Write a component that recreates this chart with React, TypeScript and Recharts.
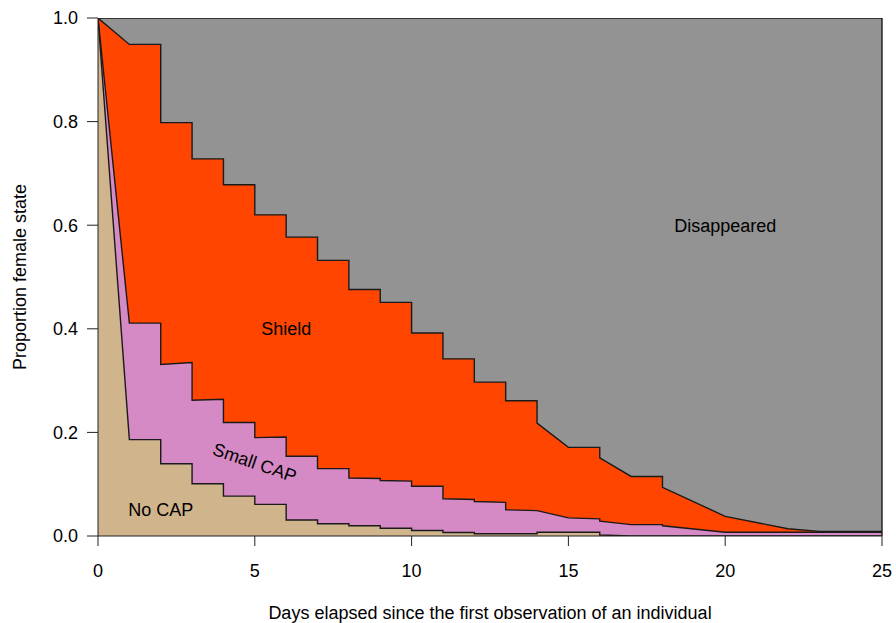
import React from 'react';
import { AreaChart, Area, XAxis, YAxis, Label, ReferenceDot, ReferenceLine } from 'recharts';

const FONT = '"Liberation Sans", Arial, Helvetica, sans-serif';

// outer boundary = everything still present (grey fills the rest)
const disappearedX = [0, 25];
const disappearedTop = [1, 1];

// upper edge of the Shield band
const shieldX = [0, 1, 2, 2, 3, 3, 4, 4, 5, 5, 6, 6, 7, 7, 8, 8, 9, 9, 10, 10, 11, 11, 12, 12, 13, 13, 14, 14, 15, 16, 16, 17, 18, 18, 20, 22, 23, 25];
const shieldTop = [1.0, 0.949, 0.949, 0.798, 0.798, 0.728, 0.728, 0.678, 0.678, 0.62, 0.62, 0.577, 0.577, 0.532, 0.532, 0.476, 0.476, 0.451, 0.451, 0.392, 0.392, 0.342, 0.342, 0.297, 0.297, 0.261, 0.261, 0.218, 0.171, 0.171, 0.151, 0.115, 0.115, 0.094, 0.038, 0.014, 0.009, 0.009];

// upper edge of the Small CAP band
const smallX = [0, 1, 2, 2, 3, 3, 4, 4, 5, 5, 6, 6, 7, 7, 8, 8, 9, 9, 10, 10, 11, 11, 12, 12, 13, 13, 14, 15, 16, 16, 17, 18, 18, 20, 25];
const smallTop = [1.0, 0.411, 0.411, 0.331, 0.335, 0.262, 0.264, 0.219, 0.219, 0.19, 0.191, 0.154, 0.154, 0.13, 0.13, 0.112, 0.111, 0.107, 0.106, 0.096, 0.096, 0.072, 0.0705, 0.0667, 0.065, 0.0506, 0.049, 0.035, 0.033, 0.0286, 0.022, 0.022, 0.0197, 0.0073, 0.0073];

// upper edge of the No CAP band
const noCapX = [0, 1, 2, 2, 3, 3, 4, 4, 5, 5, 6, 6, 7, 7, 8, 8, 9, 9, 10, 10, 11, 11, 12, 12, 14, 14, 16, 16, 17, 25];
const noCapTop = [1.0, 0.186, 0.186, 0.1395, 0.1395, 0.101, 0.101, 0.077, 0.077, 0.061, 0.061, 0.031, 0.031, 0.0236, 0.0236, 0.0197, 0.0197, 0.015, 0.015, 0.0106, 0.0106, 0.0068, 0.0068, 0.0043, 0.0043, 0.0073, 0.0073, 0.002, 0, 0];

const xTicks = [0, 5, 10, 15, 20, 25];
const yTicks = [0, 0.2, 0.4, 0.6, 0.8, 1.0];

const toRows = (xs: number[], ys: number[]) => xs.map((x, i) => ({ x, y: ys[i] }));

const bands = [
  { name: 'Disappeared', data: toRows(disappearedX, disappearedTop), fill: '#939393' },
  { name: 'Shield', data: toRows(shieldX, shieldTop), fill: '#FF4500' },
  { name: 'Small CAP', data: toRows(smallX, smallTop), fill: '#D58AC5' },
  { name: 'No CAP', data: toRows(noCapX, noCapTop), fill: '#D0B48C' },
];

const bandLabels = [
  { text: 'Disappeared', x: 20, y: 0.6, angle: 0 },
  { text: 'Shield', x: 6, y: 0.4, angle: 0 },
  { text: 'Small CAP', x: 5, y: 0.142, angle: 19 },
  { text: 'No CAP', x: 2, y: 0.05, angle: 0 },
];

const XTitle = (props: any) => {
  const vb = props.viewBox;
  return (
    <text x={vb.x + vb.width / 2} y={vb.y + 83} textAnchor="middle" fontSize={18} fontFamily={FONT} fill="#000">
      Days elapsed since the first observation of an individual
    </text>
  );
};

const YTitle = (props: any) => {
  const vb = props.viewBox;
  const cx = vb.x + 26;
  const cy = vb.y + vb.height / 2;
  return (
    <text x={cx} y={cy} transform={`rotate(-90, ${cx}, ${cy})`} textAnchor="middle" fontSize={18} fontFamily={FONT} fill="#000">
      Proportion female state
    </text>
  );
};

export default function App() {
  return (
    <div style={{ position: 'absolute', left: 0, top: 0, width: 896, height: 623, background: '#fff' }}>
      <AreaChart width={896} height={623} margin={{ top: 18, right: 14, bottom: 0, left: 0 }}>
        <XAxis
          type="number"
          dataKey="x"
          domain={[0, 25]}
          ticks={xTicks}
          interval={0}
          height={87}
          tickSize={10}
          tickMargin={18}
          stroke="#222"
          tick={{ fill: '#000', fontSize: 18, fontFamily: FONT }}
          allowDataOverflow
        >
          <Label content={XTitle} />
        </XAxis>
        <YAxis
          type="number"
          dataKey="y"
          domain={[0, 1]}
          ticks={yTicks}
          interval={0}
          width={98}
          tickSize={11}
          tickMargin={9}
          stroke="#222"
          tick={{ fill: '#000', fontSize: 18, fontFamily: FONT }}
          tickFormatter={(v: number) => v.toFixed(1)}
          allowDataOverflow
        >
          <Label content={YTitle} />
        </YAxis>

        {bands.map((b) => (
          <Area
            key={b.name}
            data={b.data}
            dataKey="y"
            name={b.name}
            type="linear"
            fill={b.fill}
            fillOpacity={1}
            stroke="#1a1a1a"
            strokeWidth={1.4}
            dot={false}
            activeDot={false}
            isAnimationActive={false}
          />
        ))}

        <ReferenceLine x={25} stroke="#1a1a1a" strokeWidth={1.4} />

        {bandLabels.map((l) => (
          <ReferenceDot
            key={l.text}
            x={l.x}
            y={l.y}
            r={0}
            fill="none"
            stroke="none"
            label={{ value: l.text, position: 'center', angle: l.angle, fontSize: 18, fontFamily: FONT, fill: '#000' }}
          />
        ))}
      </AreaChart>
    </div>
  );
}
